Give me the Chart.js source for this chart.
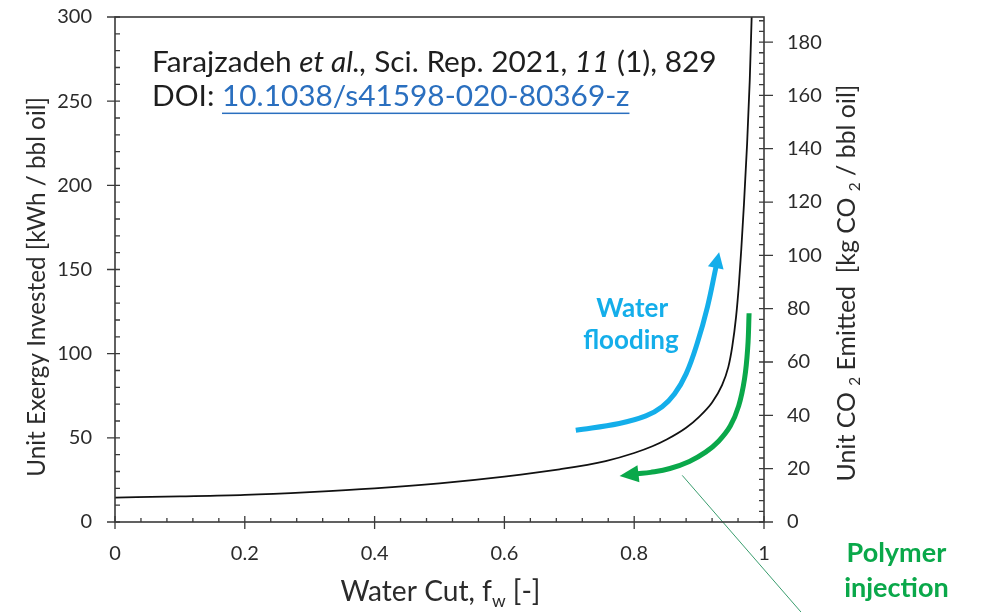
<!DOCTYPE html>
<html>
<head>
<meta charset="utf-8">
<script src="https://cdn.jsdelivr.net/npm/chart.js@4/dist/chart.umd.min.js"></script>
<style>
  html, body { margin: 0; padding: 0; background: #fff; }
  #wrap { width: 984px; height: 612px; }
</style>
</head>
<body>
<div id="wrap"><canvas id="exergyChart"></canvas></div>
<script>
// main curve: unit exergy vs water cut
const waterCut = [0, 0.1, 0.2, 0.3, 0.4, 0.5, 0.6, 0.685, 0.756, 0.8, 0.828, 0.85, 0.88, 0.9, 0.92, 0.935, 0.945, 0.951, 0.957, 0.9615, 0.965, 0.969, 0.974, 0.978, 0.981];
const exergy = [14.5, 15.2, 16.1, 17.8, 20, 23, 27, 31.3, 36.2, 41, 45, 49, 56, 62.5, 71, 81, 92, 104, 122, 142, 162, 188, 225, 262, 300];

// annotation arrows (data units of the left axis)
const floodX = [0.71, 0.777, 0.818, 0.843, 0.862, 0.88, 0.897, 0.913, 0.926];
const floodY = [54.5, 58.5, 63, 68.5, 76, 88, 106, 128, 151.5];
const polyX = [0.977, 0.975, 0.97, 0.961, 0.948, 0.93, 0.91, 0.885, 0.855, 0.825, 0.805];
const polyY = [124, 104, 85, 69, 57, 48, 41.5, 36, 31.8, 29.5, 28.6];
const leaderX = [0.874, 1.057];
const leaderY = [27.7, -53.5];

const leftMax = 300;
const rightMax = 189.4;

const FONT = "Lato, 'Open Sans', sans-serif";
const INK = "#2b2b2b";
const BLUE = "#14aeea";
const GREEN = "#0aa84a";

const pts = (xs, ys) => xs.map((x, i) => ({ x: x, y: ys[i] }));

function richWidth(ctx, parts, size) {
  let w = 0;
  parts.forEach(p => {
    const s = p.sub ? size * 0.62 : size;
    ctx.font = (p.italic ? "italic " : "") + (p.bold ? "bold " : "") + s + "px " + FONT;
    w += ctx.measureText(p.t).width;
  });
  return w;
}

function drawRich(ctx, parts, size, x, y, color) {
  let cx = x;
  parts.forEach(p => {
    const s = p.sub ? size * 0.62 : size;
    ctx.font = (p.italic ? "italic " : "") + (p.bold ? "bold " : "") + s + "px " + FONT;
    ctx.fillStyle = p.color || color;
    const w = ctx.measureText(p.t).width;
    ctx.fillText(p.t, cx, p.sub ? y + size * 0.22 : y);
    if (p.underline) {
      ctx.fillRect(cx, y + size * 0.22, w, 1.5);
    }
    cx += w;
  });
  return cx - x;
}

function fitSize(ctx, parts, width) {
  return 20 * width / richWidth(ctx, parts, 20);
}

function arrowHead(ctx, meta, color, len, half) {
  const n = meta.data.length;
  const a = meta.data[n - 2], b = meta.data[n - 1];
  const ang = Math.atan2(b.y - a.y, b.x - a.x);
  ctx.save();
  ctx.translate(b.x, b.y);
  ctx.rotate(ang);
  ctx.fillStyle = color;
  ctx.beginPath();
  ctx.moveTo(len, 0);
  ctx.lineTo(-1, -half);
  ctx.lineTo(-1, half);
  ctx.closePath();
  ctx.fill();
  ctx.restore();
}

const decorPlugin = {
  id: "decor",
  afterDatasetsDraw(chart) {
    const ctx = chart.ctx;
    const ca = chart.chartArea;
    const xs = chart.scales.x, ys = chart.scales.y, y2 = chart.scales.y2;

    // frame
    ctx.save();
    ctx.strokeStyle = "#3a3a3a";
    ctx.lineWidth = 1.6;
    ctx.strokeRect(ca.left, ca.top, ca.right - ca.left, ca.bottom - ca.top);

    // tick marks
    ctx.lineWidth = 1.3;
    ctx.beginPath();
    for (let v = 0; v <= leftMax + 1e-6; v += 10) {
      const py = ys.getPixelForValue(v);
      const major = Math.abs(v % 50) < 1e-6;
      ctx.moveTo(ca.left - (major ? 8 : 0), py);
      ctx.lineTo(ca.left + 5, py);
    }
    for (let v = 0; v <= rightMax; v += 4) {
      const py = y2.getPixelForValue(v);
      const major = Math.abs(v % 20) < 1e-6;
      ctx.moveTo(ca.right - 5, py);
      ctx.lineTo(ca.right + (major ? 9 : 0), py);
    }
    for (let i = 0; i <= 25; i++) {
      const px = xs.getPixelForValue(i * 0.04);
      const major = i % 5 === 0;
      ctx.moveTo(px, ca.bottom - (major ? 6 : 4));
      ctx.lineTo(px, ca.bottom + (major ? 7 : 0));
    }
    ctx.stroke();

    // arrow heads
    arrowHead(ctx, chart.getDatasetMeta(1), BLUE, 15, 8);
    arrowHead(ctx, chart.getDatasetMeta(2), GREEN, 18, 8.5);

    ctx.textAlign = "left";
    ctx.textBaseline = "alphabetic";

    // axis titles
    const xTitle = [{ t: "Water Cut, f" }, { t: "w", sub: true }, { t: " [-]" }];
    let s = fitSize(ctx, xTitle, 200);
    let w = richWidth(ctx, xTitle, s);
    drawRich(ctx, xTitle, s, (ca.left + ca.right) / 2 + 1 - w / 2, 601, INK);

    const lTitle = [{ t: "Unit Exergy Invested [kWh / bbl oil]" }];
    s = fitSize(ctx, lTitle, 380);
    w = richWidth(ctx, lTitle, s);
    ctx.save();
    ctx.translate(45, 287);
    ctx.rotate(-Math.PI / 2);
    drawRich(ctx, lTitle, s, -w / 2, 0, INK);
    ctx.restore();

    const rTitle = [{ t: "Unit CO " }, { t: "2", sub: true }, { t: " Emitted  [kg CO " }, { t: "2", sub: true }, { t: " / bbl oil]" }];
    s = fitSize(ctx, rTitle, 397);
    w = richWidth(ctx, rTitle, s);
    ctx.save();
    ctx.translate(855, 283);
    ctx.rotate(-Math.PI / 2);
    drawRich(ctx, rTitle, s, -w / 2, 0, INK);
    ctx.restore();

    // citation
    const line1 = [{ t: "Farajzadeh " }, { t: "et al.,", italic: true }, { t: " Sci. Rep. 2021, " }, { t: "11", italic: true }, { t: " (1), 829" }];
    s = fitSize(ctx, line1, 565);
    drawRich(ctx, line1, s, 152, 72, "#1e1e1e");
    const line2 = [{ t: "DOI: " }, { t: "10.1038/s41598-020-80369-z", color: "#2a6fbf", underline: true }];
    drawRich(ctx, line2, s, 152, 106, "#1e1e1e");

    // arrow labels
    ctx.textAlign = "center";
    ctx.font = "bold 26px " + FONT;
    ctx.fillStyle = BLUE;
    ctx.fillText("Water", xs.getPixelForValue(0.797), ys.getPixelForValue(122));
    ctx.fillText("flooding", xs.getPixelForValue(0.795), ys.getPixelForValue(103));
    ctx.font = "bold 27px " + FONT;
    ctx.fillStyle = GREEN;
    ctx.fillText("Polymer", xs.getPixelForValue(1.204), ys.getPixelForValue(-23.8));
    ctx.fillText("injection", xs.getPixelForValue(1.204), ys.getPixelForValue(-44.6));
    ctx.restore();
  }
};

const tickFont = { family: FONT, size: 20 };

// keep the plot frame where the reference has it
function fitVertical(width) {
  return (scale) => {
    scale.width = width;
    scale.paddingTop = 0;
    scale.paddingBottom = 0;
  };
}

new Chart(document.getElementById("exergyChart"), {
  type: "scatter",
  data: {
    datasets: [
      {
        label: "Unit exergy",
        data: pts(waterCut, exergy),
        showLine: true,
        borderColor: "#111",
        borderWidth: 1.8,
        pointRadius: 0,
        cubicInterpolationMode: "monotone",
      },
      {
        label: "Water flooding",
        data: pts(floodX, floodY),
        showLine: true,
        borderColor: BLUE,
        borderWidth: 5,
        pointRadius: 0,
        tension: 0.4,
      },
      {
        label: "Polymer injection",
        data: pts(polyX, polyY),
        showLine: true,
        borderColor: GREEN,
        borderWidth: 5,
        pointRadius: 0,
        tension: 0.4,
      },
      {
        label: "leader",
        data: pts(leaderX, leaderY),
        showLine: true,
        borderColor: "#3a9d6e",
        borderWidth: 1,
        pointRadius: 0,
        clip: false,
      },
    ],
  },
  options: {
    responsive: true,
    maintainAspectRatio: false,
    animation: false,
    layout: { padding: { top: 17 } },
    plugins: {
      legend: { display: false },
      tooltip: { enabled: false },
    },
    scales: {
      x: {
        type: "linear",
        min: 0,
        max: 1,
        ticks: {
          stepSize: 0.2,
          padding: 20,
          color: INK,
          font: tickFont,
          callback: (v) => String(+v.toFixed(1)),
        },
        grid: { display: false, drawTicks: false },
        border: { display: false },
        afterFit: (scale) => { scale.height = 90; },
      },
      y: {
        position: "left",
        min: 0,
        max: leftMax,
        ticks: { stepSize: 50, padding: 23, color: INK, font: tickFont },
        grid: { display: false, drawTicks: false },
        border: { display: false },
        afterFit: fitVertical(115),
      },
      y2: {
        position: "right",
        min: 0,
        max: rightMax,
        ticks: {
          stepSize: 20,
          includeBounds: false,
          padding: 23,
          color: INK,
          font: tickFont,
          callback: (v) => (v % 20 === 0 ? String(v) : ""),
        },
        grid: { display: false, drawTicks: false },
        border: { display: false },
        afterFit: fitVertical(220),
      },
    },
  },
  plugins: [decorPlugin],
});
</script>
</body>
</html>
